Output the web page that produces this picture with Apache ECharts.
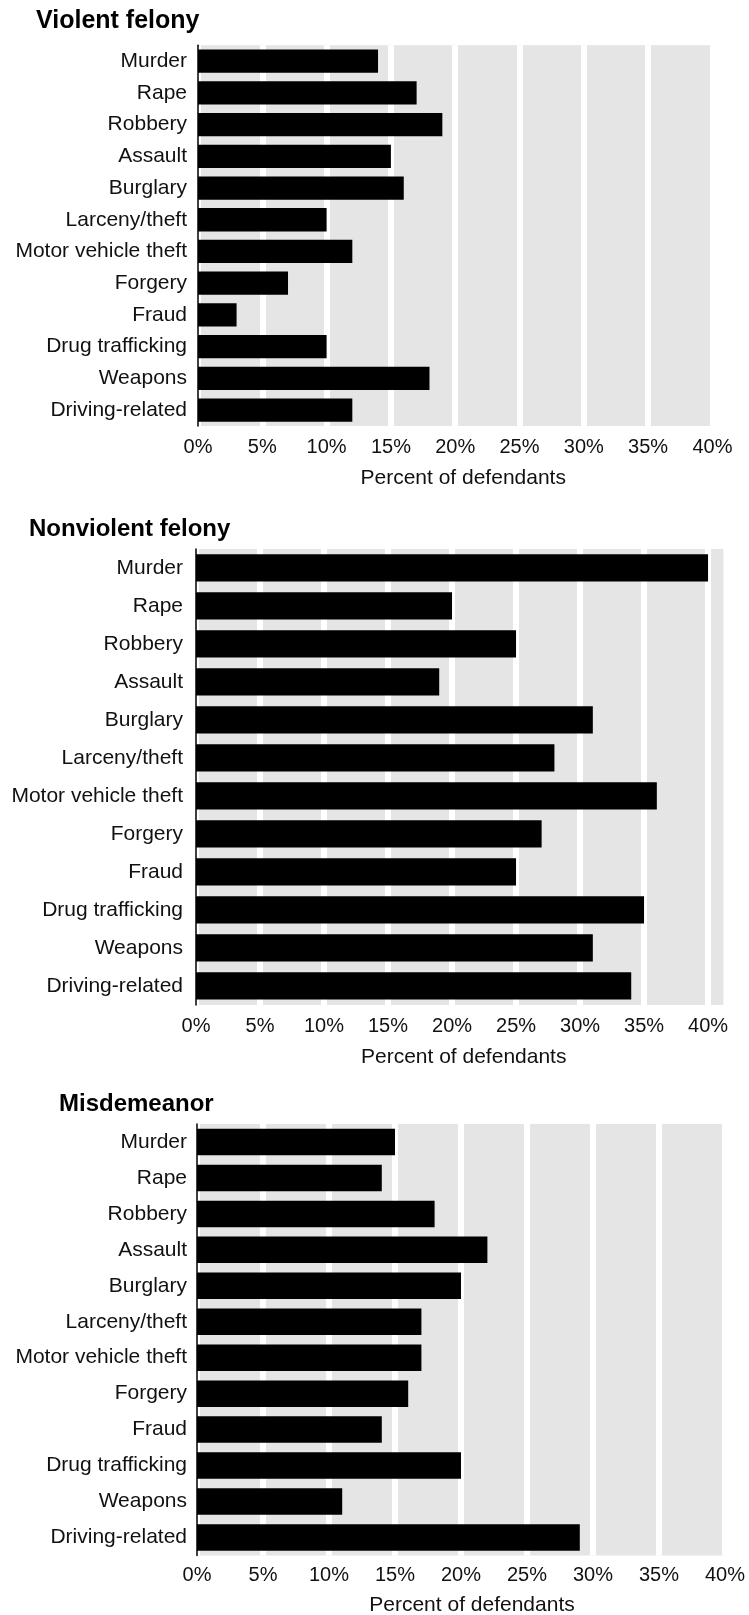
<!DOCTYPE html>
<html>
<head>
<meta charset="utf-8">
<script src="https://cdn.jsdelivr.net/npm/echarts@6/dist/echarts.min.js"></script>
<style>
html,body{margin:0;padding:0;background:#fff;}
#chart{width:749px;height:1615px;}
</style>
</head>
<body>
<div id="chart"></div>
<script>
// ---- data ----
const categories = ['Murder','Rape','Robbery','Assault','Burglary','Larceny/theft','Motor vehicle theft','Forgery','Fraud','Drug trafficking','Weapons','Driving-related'];
const violentFelony    = [14, 17, 19, 15, 16, 10, 12, 7, 3, 10, 18, 12];
const nonviolentFelony = [40, 20, 25, 19, 31, 28, 36, 27, 25, 35, 31, 34];
const misdemeanor      = [15, 14, 18, 22, 20, 17, 17, 16, 14, 20, 11, 29];
const panelTitles = ['Violent felony', 'Nonviolent felony', 'Misdemeanor'];
const xAxisTitle = 'Percent of defendants';
const tickStep = 5;     // percent between ticks
const axisMaxes = [40, 41.2, 40];

// ---- layout / style ----
const FONT = "'Liberation Sans', Arial, Helvetica, sans-serif";
const layout = [
  {grid:{left:198, top:45.3, width:514.4, height:380.6}, bar:23.3, title:{left:36, top:9, size:25}, labelMargin:11.5, nameGap:42, namePad:16, catMargin:11, showMaxLine:true},
  {grid:{left:196, top:548.9, width:527.4, height:456}, bar:27.3, title:{left:29, top:517, size:24}, labelMargin:12, nameGap:42, namePad:8, catMargin:13, showMaxLine:false},
  {grid:{left:197, top:1124, width:528, height:431.4}, bar:26.5, title:{left:59, top:1092, size:24}, labelMargin:10, nameGap:39, namePad:22, catMargin:10, showMaxLine:true}
];
const seriesValues = [violentFelony, nonviolentFelony, misdemeanor];

const option = {
  animation: false,
  backgroundColor: '#ffffff',
  title: layout.map((l, i) => ({
    text: panelTitles[i], left: l.title.left, top: l.title.top, padding: 0,
    textStyle: {fontFamily: FONT, fontSize: l.title.size, fontWeight: 'bold', color: '#000'}
  })),
  grid: layout.map(l => Object.assign({
    show: true, backgroundColor: '#e5e5e5', borderWidth: 0,
    containLabel: false, outerBoundsMode: 'none'
  }, l.grid)),
  xAxis: layout.map((l, i) => ({
    type: 'value', gridIndex: i, min: 0, max: axisMaxes[i], interval: tickStep,
    axisLine: {show: false}, axisTick: {show: false},
    splitLine: {show: true, showMinLine: true, showMaxLine: l.showMaxLine, lineStyle: {color: '#ffffff', width: 6}},
    axisLabel: {
      show: true, margin: l.labelMargin, showMaxLabel: axisMaxes[i] % tickStep === 0,
      formatter: v => v + '%', fontFamily: FONT, fontSize: 20, color: '#111'
    },
    name: xAxisTitle, nameLocation: 'middle', nameGap: l.nameGap,
    nameTextStyle: {fontFamily: FONT, fontSize: 21, color: '#111', padding: [0, 0, 0, l.namePad]}
  })),
  yAxis: layout.map((l, i) => ({
    type: 'category', gridIndex: i, data: categories, inverse: true, z: 1,
    axisLine: {show: true, lineStyle: {color: '#000', width: 1.5}},
    axisTick: {show: false}, splitLine: {show: false},
    axisLabel: {margin: l.catMargin, fontFamily: FONT, fontSize: 21, color: '#111', interval: 0}
  })),
  series: layout.map((l, i) => ({
    type: 'bar', xAxisIndex: i, yAxisIndex: i, data: seriesValues[i],
    barWidth: l.bar, itemStyle: {color: '#000'}, z: 2
  }))
};

const chart = echarts.init(document.getElementById('chart'), null, {renderer: 'canvas'});
chart.setOption(option);
</script>
</body>
</html>
